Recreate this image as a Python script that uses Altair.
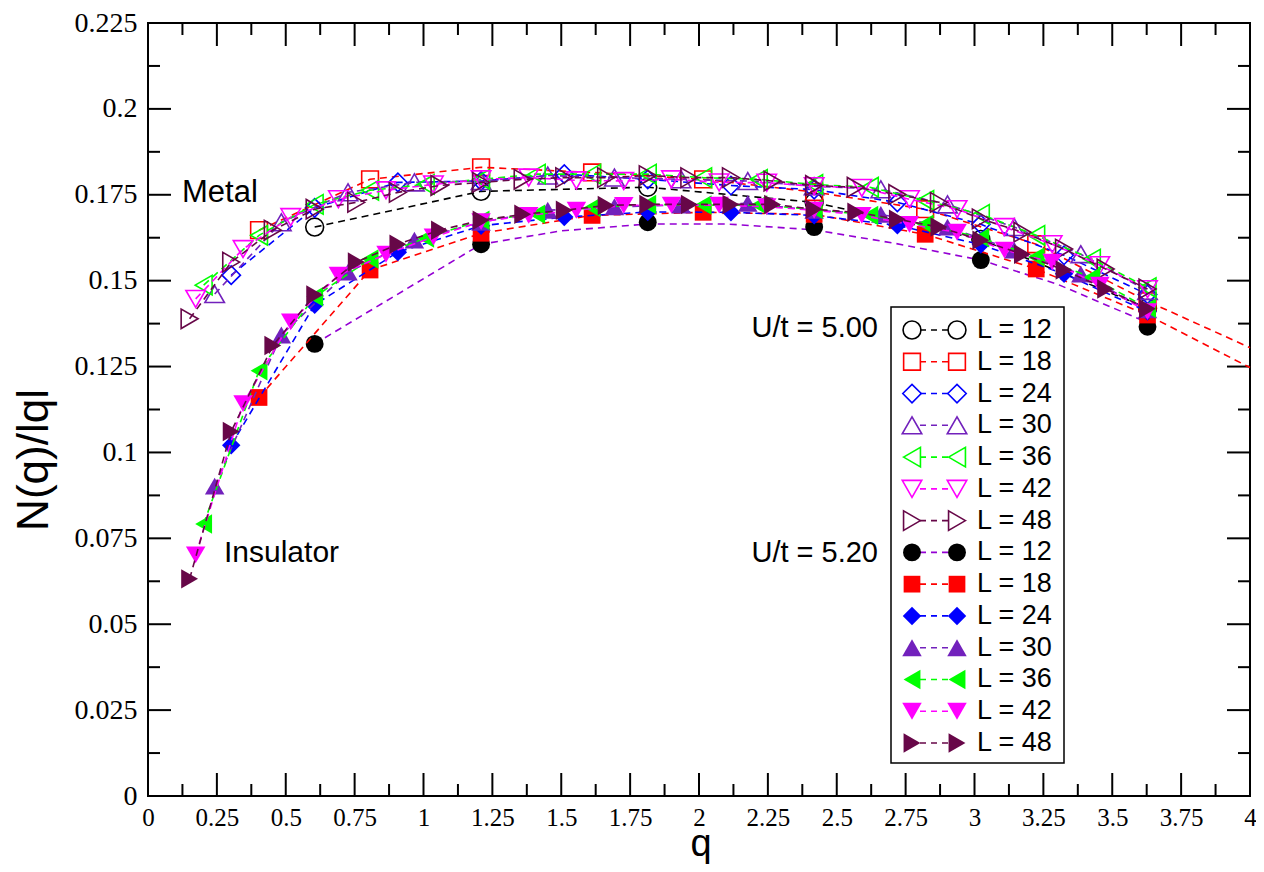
import altair as alt
import pandas as pd

W, H = 1102, 773

# ---------------- axis ticks ----------------
X_MAJOR = [0, 0.25, 0.5, 0.75, 1, 1.25, 1.5, 1.75, 2, 2.25, 2.5, 2.75, 3, 3.25, 3.5, 3.75, 4]
X_MINOR = [0.125, 0.375, 0.625, 0.875, 1.125, 1.375, 1.625, 1.875, 2.125, 2.375,
           2.625, 2.875, 3.125, 3.375, 3.625, 3.875]
Y_MAJOR = [0, 0.025, 0.05, 0.075, 0.1, 0.125, 0.15, 0.175, 0.2, 0.225]
Y_MINOR = [0.0125, 0.0375, 0.0625, 0.0875, 0.1125, 0.1375, 0.1625, 0.1875, 0.2125]

# ---------------- q grids ----------------
Q12 = [0.605, 1.209, 1.814, 2.418, 3.023, 3.628]
Q18 = [0.403, 0.806, 1.209, 1.612, 2.015, 2.418, 2.821, 3.224, 3.628]
Q24 = [0.302, 0.605, 0.907, 1.209, 1.511, 1.814, 2.116, 2.418, 2.720, 3.023, 3.325, 3.628]
Q30 = [0.242, 0.484, 0.726, 0.967, 1.209, 1.451, 1.693, 1.935, 2.177, 2.418, 2.660,
       2.902, 3.144, 3.386, 3.628]
Q36 = [0.202, 0.403, 0.605, 0.806, 1.008, 1.209, 1.411, 1.612, 1.814, 2.015, 2.217,
       2.418, 2.620, 2.821, 3.023, 3.224, 3.426, 3.628]
Q42 = [0.173, 0.345, 0.518, 0.691, 0.864, 1.036, 1.209, 1.382, 1.555, 1.727, 1.900,
       2.073, 2.246, 2.418, 2.591, 2.764, 2.937, 3.109, 3.282, 3.455, 3.628]
Q48 = [0.151, 0.302, 0.453, 0.605, 0.756, 0.907, 1.058, 1.209, 1.360, 1.511, 1.663,
       1.814, 1.965, 2.116, 2.267, 2.418, 2.569, 2.720, 2.871, 3.023, 3.174, 3.325,
       3.476, 3.628]

# ---------------- U/t = 5.00 (open symbols) ----------------
O12 = [0.1656, 0.1760, 0.1772, 0.1728, 0.1620, 0.1420]
O18 = [0.1647, 0.1795, 0.1830, 0.1815, 0.1795, 0.1758, 0.1708, 0.1606, 0.1440]
O24 = [0.1516, 0.1712, 0.1786, 0.1790, 0.1810, 0.1795, 0.1777, 0.1765, 0.1728, 0.1664,
       0.1574, 0.1460]
O30 = [0.1461, 0.1670, 0.1757, 0.1786, 0.1790, 0.1806, 0.1800, 0.1795, 0.1790, 0.1775,
       0.1766, 0.1722, 0.1656, 0.1577, 0.1470]
O36 = [0.1487, 0.1632, 0.1722, 0.1763, 0.1780, 0.1795, 0.1810, 0.1810, 0.1810, 0.1800,
       0.1795, 0.1780, 0.1772, 0.1734, 0.1693, 0.1632, 0.1563, 0.1480]
O42 = [0.1447, 0.1592, 0.1685, 0.1737, 0.1763, 0.1780, 0.1795, 0.1800, 0.1792, 0.1790,
       0.1795, 0.1786, 0.1785, 0.1775, 0.1770, 0.1737, 0.1708, 0.1656, 0.1606, 0.1545,
       0.1475]
O48 = [0.1389, 0.1554, 0.1647, 0.1708, 0.1728, 0.1757, 0.1777, 0.1786, 0.1795, 0.1800,
       0.1800, 0.1806, 0.1800, 0.1800, 0.1790, 0.1777, 0.1772, 0.1751, 0.1728, 0.1680,
       0.1641, 0.1592, 0.1534, 0.1476]

# ---------------- U/t = 5.20 (filled symbols) ----------------
F12 = [0.1316, 0.1606, 0.1670, 0.1656, 0.1560, 0.1366]
F18 = [0.1160, 0.1531, 0.1638, 0.1690, 0.1699, 0.1693, 0.1635, 0.1534, 0.1400]
F24 = [0.1021, 0.1430, 0.1583, 0.1660, 0.1685, 0.1700, 0.1699, 0.1690, 0.1661, 0.1605,
       0.1520, 0.1410]
F30 = [0.0902, 0.1342, 0.1525, 0.1618, 0.1670, 0.1705, 0.1715, 0.1720, 0.1725, 0.1705,
       0.1693, 0.1656, 0.1589, 0.1519, 0.1415]
F36 = [0.0792, 0.1238, 0.1453, 0.1563, 0.1624, 0.1676, 0.1693, 0.1713, 0.1722, 0.1720,
       0.1720, 0.1708, 0.1690, 0.1664, 0.1625, 0.1569, 0.1510, 0.1420]
F42 = [0.0702, 0.1142, 0.1380, 0.1516, 0.1577, 0.1627, 0.1672, 0.1690, 0.1705, 0.1719,
       0.1720, 0.1720, 0.1715, 0.1705, 0.1690, 0.1664, 0.1641, 0.1589, 0.1554, 0.1487,
       0.1410]
F48 = [0.0632, 0.1061, 0.1311, 0.1458, 0.1554, 0.1606, 0.1647, 0.1676, 0.1693, 0.1705,
       0.1719, 0.1722, 0.1722, 0.1722, 0.1722, 0.1708, 0.1699, 0.1679, 0.1656, 0.1618,
       0.1577, 0.1531, 0.1476, 0.1418]

# dashed curves (L=12 at U/t=5.20, L=18 extended to q=4)
F12_LINE_Q = [0.605, 1.209, 1.5, 1.814, 2.1, 2.418, 2.715, 3.023, 3.3, 3.628]
F12_LINE_V = [0.1316, 0.1606, 0.1645, 0.1665, 0.1665, 0.1648, 0.1608, 0.1560, 0.1490, 0.1378]
O18_EXT = (4.0, 0.1305)
F18_EXT = (4.0, 0.1247)

L_LABELS = ["L = 12", "L = 18", "L = 24", "L = 30", "L = 36", "L = 42", "L = 48"]
COLORS = ["#000000", "#ff0000", "#0000ff", "#7221bc", "#00ff00", "#ff00ff", "#670748"]
SHAPES = ["circle", "square", "diamond", "triangle-up", "triangle-left",
          "triangle-down", "triangle-right"]
SIZES = {"circle": 320, "square": 280, "diamond": 340, "triangle-up": 380,
         "triangle-left": 380, "triangle-down": 380, "triangle-right": 380}
F12_LINE_COLOR = "#9400d3"
ANNOT = ["Metal", "Insulator", "U/t = 5.00", "U/t = 5.20"]
X_TITLE = "q"
Y_TITLE = "N(q)/lql"

QS = [Q12, Q18, Q24, Q30, Q36, Q42, Q48]
OPEN = [O12, O18, O24, O30, O36, O42, O48]
FILL = [F12, F18, F24, F30, F36, F42, F48]

# ---------------- encodings ----------------
XS = alt.Scale(domain=[0, 4], nice=False, zero=False)
YS = alt.Scale(domain=[0, 0.225], nice=False, zero=False)
XAX = alt.Axis(values=X_MAJOR, labelExpr="toString(datum.value)",
               labelFont="Liberation Serif", labelFontSize=25,
               labelColor="black", labelPadding=9, ticks=False, domain=False, grid=False,
               title=None, labelFlush=False, labelOverlap=False)
YAX = alt.Axis(values=Y_MAJOR, labelExpr="toString(datum.value)",
               labelFont="Liberation Serif", labelFontSize=28,
               labelColor="black", labelPadding=11, ticks=False, domain=False, grid=False,
               title=None, labelFlush=False, labelOverlap=False)


def xq():
    return alt.X("q:Q", scale=XS, axis=XAX)


def yv():
    return alt.Y("v:Q", scale=YS, axis=YAX)


DASH = [7, 5]
layers = []

# inward ticks on all four sides
for vals, ln in ((X_MAJOR, 23), (X_MINOR, 12)):
    d = pd.DataFrame({"q": vals})
    layers.append(alt.Chart(d).mark_rule(color="black", strokeWidth=2).encode(
        x=xq(), y=alt.value(H), y2=alt.value(H - ln)))
    layers.append(alt.Chart(d).mark_rule(color="black", strokeWidth=2).encode(
        x=xq(), y=alt.value(0), y2=alt.value(ln)))
for vals, ln in ((Y_MAJOR, 23), (Y_MINOR, 12)):
    d = pd.DataFrame({"v": vals})
    layers.append(alt.Chart(d).mark_rule(color="black", strokeWidth=2).encode(
        y=yv(), x=alt.value(0), x2=alt.value(ln)))
    layers.append(alt.Chart(d).mark_rule(color="black", strokeWidth=2).encode(
        y=yv(), x=alt.value(W), x2=alt.value(W - ln)))


def add_series(q, v, color, shape, filled, line_q=None, line_v=None, line_color=None):
    lq = line_q if line_q is not None else q
    lv = line_v if line_v is not None else v
    ldf = pd.DataFrame({"q": lq, "v": lv})
    pdf = pd.DataFrame({"q": q, "v": v})
    layers.append(alt.Chart(ldf).mark_line(
        color=line_color or color, strokeDash=DASH, strokeWidth=1.6).encode(x=xq(), y=yv()))
    layers.append(alt.Chart(pdf).mark_point(
        shape=shape, filled=filled, color=color, size=SIZES[shape], strokeWidth=1.6,
        opacity=1).encode(x=xq(), y=yv()))


for i in range(7):
    lq, lv = None, None
    if i == 1:
        lq = QS[i] + [O18_EXT[0]]
        lv = OPEN[i] + [O18_EXT[1]]
    add_series(QS[i], OPEN[i], COLORS[i], SHAPES[i], False, lq, lv)
for i in range(7):
    lq, lv, lc = None, None, None
    if i == 0:
        lq, lv, lc = F12_LINE_Q, F12_LINE_V, F12_LINE_COLOR
    if i == 1:
        lq = QS[i] + [F18_EXT[0]]
        lv = FILL[i] + [F18_EXT[1]]
    add_series(QS[i], FILL[i], COLORS[i], SHAPES[i], True, lq, lv, lc)

data_group = alt.layer(*layers)

# ---------------- legend & annotations ----------------
leg = pd.DataFrame({
    "row": list(range(14)),
    "label": L_LABELS + L_LABELS,
    "c": COLORS + COLORS,
    "lc": COLORS + [F12_LINE_COLOR] + COLORS[1:],
    "s": SHAPES + SHAPES,
    "filled": [False] * 7 + [True] * 7,
})
ROW = alt.Y("row:Q", scale=alt.Scale(domain=[0, 13], range=[307, 720]), axis=None)
one = pd.DataFrame({"k": [0]})

leg_layers = [
    alt.Chart(one).mark_rect(fill="white", stroke="black", strokeWidth=1.5).encode(
        x=alt.value(743), x2=alt.value(916), y=alt.value(284), y2=alt.value(740)),
    alt.Chart(leg).mark_rule(strokeDash=[6, 5], strokeWidth=1.6).encode(
        x=alt.value(772), x2=alt.value(802), y=ROW, color=alt.Color("lc:N", scale=None)),
]
for xpos in (764, 809):
    for shp in SHAPES:
        for fl in (False, True):
            sub = leg[(leg["s"] == shp) & (leg["filled"] == fl)]
            leg_layers.append(alt.Chart(sub).mark_point(
                shape=shp, filled=fl, size=SIZES[shp], strokeWidth=1.6, opacity=1).encode(
                x=alt.value(xpos), y=ROW, color=alt.Color("c:N", scale=None)))
leg_layers.append(alt.Chart(leg).mark_text(
    align="left", baseline="middle", font="Liberation Sans", fontSize=27, color="black").encode(
    x=alt.value(829), y=ROW, text="label:N"))


def text_layer(txt, x, y, align="left", size=30, angle=0):
    d = pd.DataFrame({"t": [txt]})
    return alt.Chart(d).mark_text(align=align, baseline="middle", font="Liberation Sans",
                                  fontSize=size, color="black", angle=angle).encode(
        x=alt.value(x), y=alt.value(y), text="t:N")


leg_layers += [
    text_layer(ANNOT[0], 34, 170, size=31),
    text_layer(ANNOT[1], 76, 530),
    text_layer(ANNOT[2], 730, 305, align="right", size=29),
    text_layer(ANNOT[3], 730, 530, align="right", size=29),
    text_layer(X_TITLE, 553, 822, align="center", size=38),
    text_layer(Y_TITLE, -113, 437, align="center", size=44, angle=270),
]
legend_group = alt.layer(*leg_layers)

chart = alt.layer(data_group, legend_group).resolve_scale(y="independent").properties(
    width=W, height=H,
    autosize=alt.AutoSizeParams(type="none"),
    padding={"left": 140, "top": 15, "right": 6, "bottom": 68},
).configure_view(stroke="black", strokeWidth=2)

chart.save("out.html", embed_options={"renderer": "svg", "actions": False})
